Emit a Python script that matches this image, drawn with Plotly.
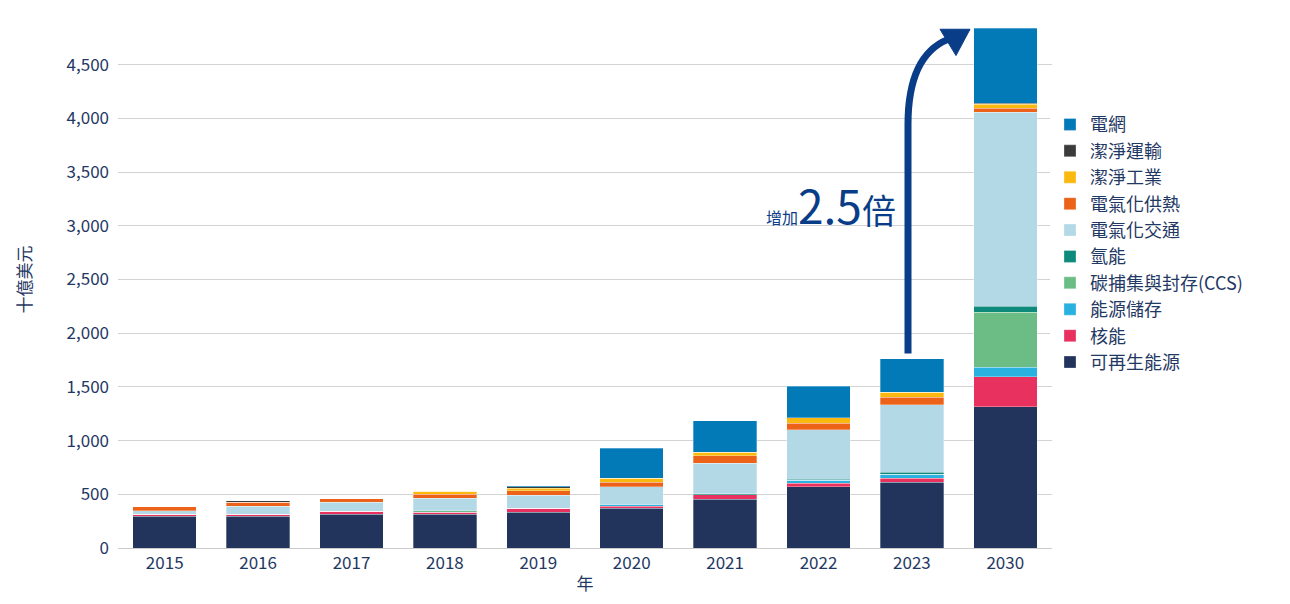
import plotly.graph_objects as go

years = ["2015","2016","2017","2018","2019","2020","2021","2022","2023","2030"]
renewables = [295,295,314,314,333,371,456,569,613,1313]
nuclear = [19,19,26,19,38,19,41,35,35,281]
storage = [0,0,0,0,0,13,0,25,40,87]
ccs = [0,0,0,16,0,0,0,0,0,515]
hydrogen = [0,0,0,0,0,0,6,12,16,57]
ev_transport = [32,76,84,116,122,166,286,459,628,1802]
elec_heat = [38,37,35,35,38,41,72,60,70,38]
clean_industry = [0,0,0,28,25,38,32,53,47,37]
clean_transport = [0,13,0,0,16,0,0,0,0,10]
grid = [0,0,0,0,6,283,292,293,314,698]

series = [
    ("可再生能源", renewables, "#22345c"),
    ("核能", nuclear, "#e8315f"),
    ("能源儲存", storage, "#29b1e0"),
    ("碳捕集與封存(CCS)", ccs, "#6bbd85"),
    ("氫能", hydrogen, "#0d8a7c"),
    ("電氣化交通", ev_transport, "#b3d8e6"),
    ("電氣化供熱", elec_heat, "#ec6219"),
    ("潔淨工業", clean_industry, "#fbb80f"),
    ("潔淨運輸", clean_transport, "#3b3b3b"),
    ("電網", grid, "#027ab8"),
]

FONT = "Noto Sans CJK TC"
fig = go.Figure()
for i, (name, vals, col) in enumerate(series):
    fig.add_trace(go.Bar(x=years, y=vals, name=name, marker_color=col,
                         marker_line=dict(color="rgba(255,255,255,0.5)", width=0.6),
                         legendgroup=str(i)))

W, H = 1290, 604
# reference plot rectangle (pixels in the reference image)
RX0, RX1, RY0, RY1 = 118, 1052, 18, 548
def px(x): return (x - RX0) / (RX1 - RX0)
def py(y): return (RY1 - y) / (RY1 - RY0)

arrow_col = "#0a3d87"
fig.add_shape(type="path", xref="paper", yref="paper",
              path=f"M {px(908)},{py(356)} L {px(908)},{py(130)} Q {px(908)},{py(62)} {px(948)},{py(46)}",
              line=dict(color=arrow_col, width=7))
fig.add_shape(type="path", xref="paper", yref="paper",
              path=f"M {px(970)},{py(36)} L {px(940)},{py(36)} L {px(956)},{py(62)} Z",
              fillcolor=arrow_col, line=dict(color=arrow_col, width=1))

fig.add_annotation(xref="paper", yref="paper", x=px(898), y=py(208), xanchor="right", yanchor="middle",
                   showarrow=False,
                   text="<span style='font-size:16px'>增加</span><span style='font-size:46px'>2.5</span><span style='font-size:34px'>倍</span>",
                   font=dict(family=FONT, color=arrow_col))

fig.update_layout(
    width=W, height=H, barmode="stack", bargap=0.32,
    plot_bgcolor="white", paper_bgcolor="white",
    margin=dict(l=110, r=246, t=3, b=64),
    font=dict(family=FONT, size=17, color="#1f3864"),
    legend=dict(traceorder="reversed", x=px(1050), y=py(112), yanchor="top", xanchor="left",
                font=dict(size=18, color="#1f3864"), tracegroupgap=26, itemwidth=30),
    xaxis=dict(title=dict(text="年", standoff=4, font=dict(size=17)), tickfont=dict(size=17),
               showline=True, linecolor="#cccccc"),
    yaxis=dict(title=dict(text="十億美元", standoff=30, font=dict(size=17)), range=[0, 5000], dtick=500,
               tickformat=",", tickfont=dict(size=17), gridcolor="#d3d3d3", zeroline=False,
               ticklabelstandoff=8),
)
fig.write_html("out.html")
